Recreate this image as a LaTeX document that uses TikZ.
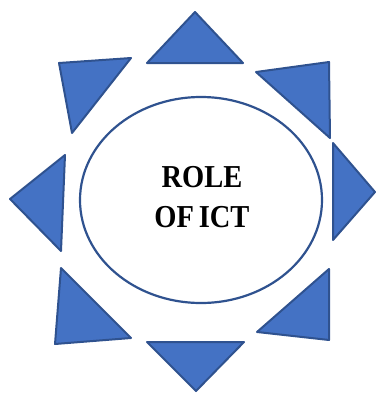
\documentclass[tikz,border=0pt]{standalone}
\usepackage{fontspec}
\setmainfont{Liberation Serif}
\usetikzlibrary{shapes.geometric}
\begin{document}
\begin{tikzpicture}[x=1pt,y=-1pt,
  tri/.style={fill=triblue,draw=triedge,line width=2pt,line join=round},
  circ/.style={ellipse,draw=triedge,line width=2.2pt,fill=white,inner sep=0pt,minimum width=242pt,minimum height=206pt}]
\definecolor{triblue}{HTML}{4472C4}
\definecolor{triedge}{HTML}{2F528F}
\useasboundingbox (0,0) rectangle (377,394);
% triangles
\draw[tri] (195,12) -- (243,63) -- (147,63) -- cycle;
\draw[tri] (256,72) -- (329,62) -- (330,138) -- cycle;
\draw[tri] (333,143) -- (375,192) -- (333,240) -- cycle;
\draw[tri] (329,269) -- (329,340) -- (257,332) -- cycle;
\draw[tri] (147,342) -- (244,342) -- (196,391) -- cycle;
\draw[tri] (61,268) -- (131,338) -- (55,344) -- cycle;
\draw[tri] (65,155) -- (10,199) -- (61,251) -- cycle;
\draw[tri] (59,63) -- (131,58) -- (72,133) -- cycle;
% central ellipse
\node[circ] (c) at (201,200) {};
\node[align=center,font=\fontsize{28.5}{42}\selectfont\bfseries] (t) at (202,197)
  {\scalebox{1}[1.12]{ROLE}\\[-2pt]\scalebox{1}[1.12]{OF\,ICT}};
\end{tikzpicture}
\end{document}
